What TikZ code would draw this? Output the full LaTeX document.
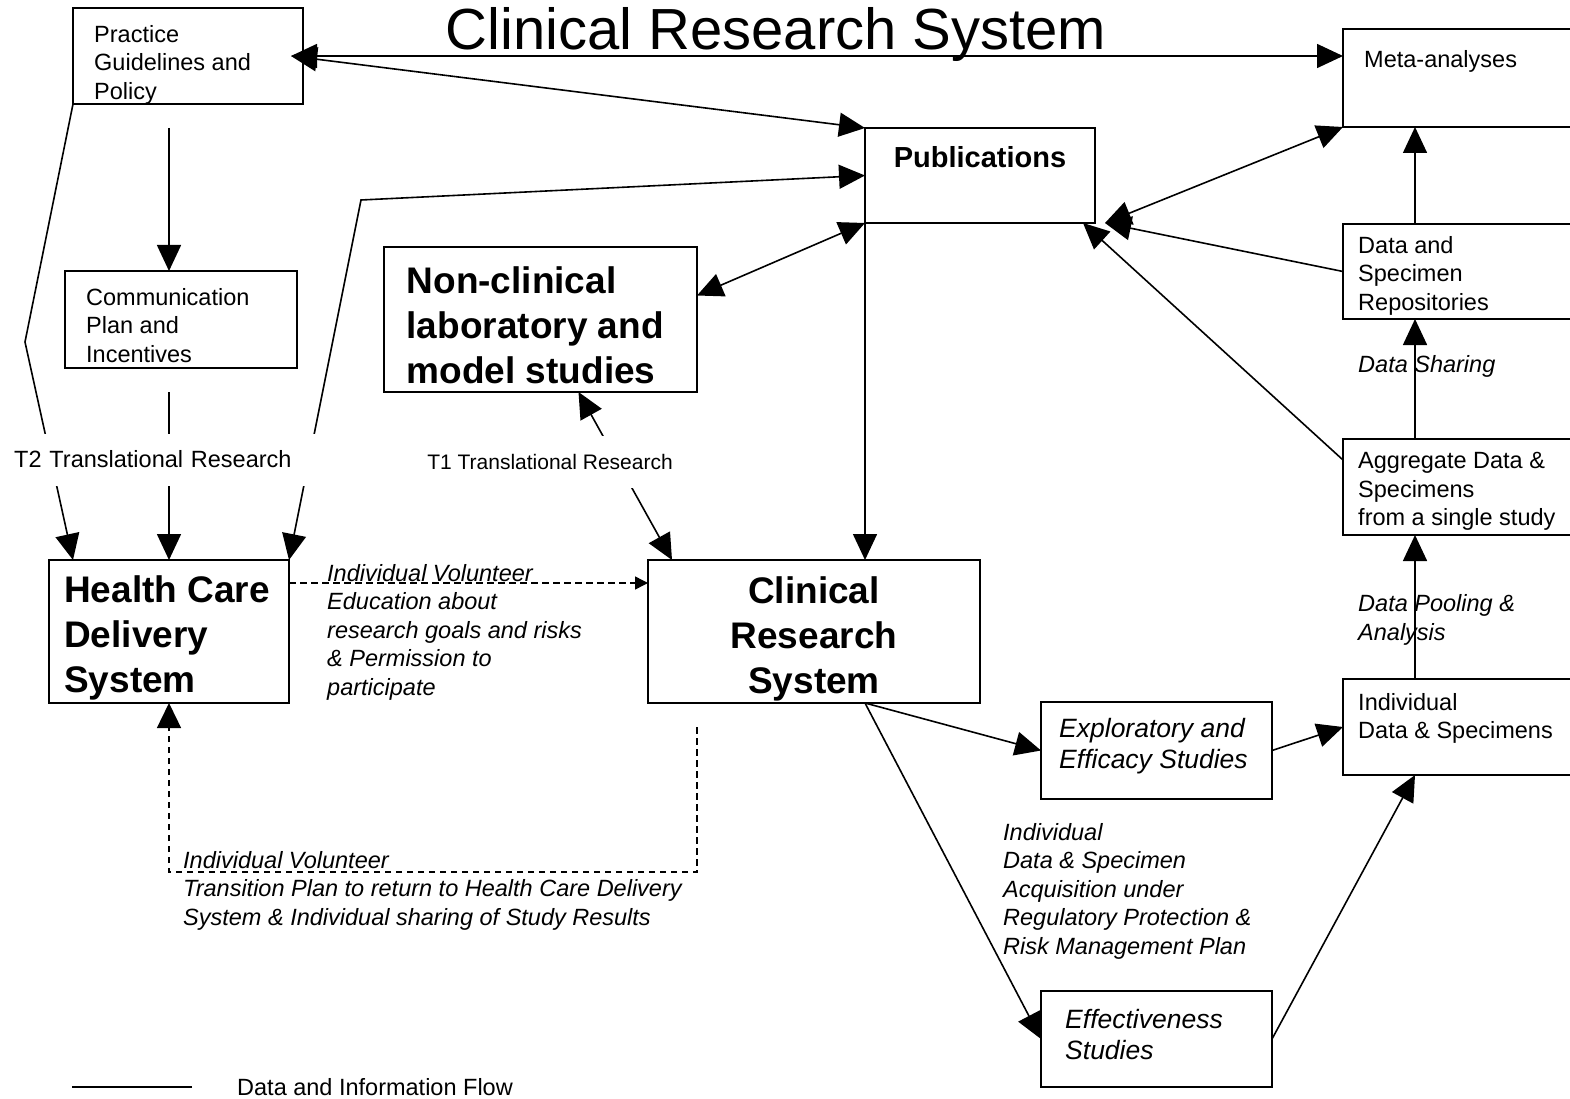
\documentclass[tikz,border=0pt]{standalone}
\usepackage{fontspec}
\setmainfont{Liberation Sans}
\usetikzlibrary{arrows.meta,positioning}
\newcommand{\fsz}[2]{\fontsize{#1}{#2}\selectfont}

\begin{document}
\begin{tikzpicture}[x=1pt,y=-1pt,
    box/.style={rectangle,draw,line width=2.2pt,inner sep=0pt,outer sep=0pt,anchor=north west},
    txt/.style={inner sep=0pt,anchor=north west,align=left,font=\fsz{23.5}{28.5}},
    itxt/.style={txt,font=\fsz{23.5}{28.5}\itshape},
    btxt/.style={txt,font=\fsz{37}{45}\bfseries},
    arr/.style={-{Triangle[length=26pt,width=24pt]},line width=1.6pt},
    darr/.style={{Triangle[length=26pt,width=24pt]}-{Triangle[length=26pt,width=24pt]},line width=1.6pt},
    dsh/.style={-{Triangle[length=13pt,width=13pt]},line width=1.4pt,dash pattern=on 6.5pt off 4.5pt},
    dshb/.style={dsh,-{Triangle[length=25pt,width=24pt]}},
]
\useasboundingbox (0,0) rectangle (1570,1099);

% Title
\node[font=\fsz{58}{70},inner sep=0pt,anchor=base] (title) at (776,50) {Clinical Research System};

% Boxes
\node[box,minimum width=230pt,minimum height=96pt] (guide) at (73,8) {};
\node[box,minimum width=232pt,minimum height=97pt] (comm) at (65,271) {};
\node[box,minimum width=313pt,minimum height=145pt] (nonclin) at (384,247) {};
\node[box,minimum width=230pt,minimum height=95pt] (pub) at (865,128) {};
\node[box,minimum width=240pt,minimum height=143pt] (hcds) at (49,560) {};
\node[box,minimum width=332pt,minimum height=143pt] (crs) at (648,560) {};
\node[box,minimum width=231pt,minimum height=97pt] (explor) at (1041,702) {};
\node[box,minimum width=231pt,minimum height=96pt] (effect) at (1041,991) {};

% Right column (runs off the page)
\node[box,minimum width=240pt,minimum height=98pt] (meta) at (1343,29) {};
\node[box,minimum width=240pt,minimum height=95pt] (repo) at (1343,224) {};
\node[box,minimum width=240pt,minimum height=96pt] (agg) at (1343,439) {};
\node[box,minimum width=240pt,minimum height=96pt] (indiv) at (1343,679) {};

% Box texts
\node[txt] (guidet) at (94,25) {Practice\\Guidelines and\\Policy};
\node[txt] (commt) at (86,288) {Communication\\Plan and\\Incentives};
\node[btxt] (nonclint) at (406.5,266) {Non-clinical\\laboratory and\\model studies};
\node[font=\fsz{29}{35}\bfseries,inner sep=0pt,anchor=base] (pubt) at (980,168) {Publications};
\node[btxt] (hcdst) at (64,575) {Health Care\\Delivery\\System};
\node[btxt,anchor=north,align=center] (crst) at (814,576) {Clinical\\Research\\System};
\node[itxt,font=\fsz{26.5}{31}\itshape] (explort) at (1059,718) {Exploratory and\\Efficacy Studies};
\node[itxt,font=\fsz{26.5}{31}\itshape] (effectt) at (1065,1009) {Effectiveness\\Studies};
\node[txt] (metat) at (1364,50) {Meta-analyses};
\node[txt] (repot) at (1358,236) {Data and\\Specimen\\Repositories};
\node[txt] (aggt) at (1358,452.5) {Aggregate Data \&\\Specimens\\from a single study};
\node[txt] (indivt) at (1358,693) {Individual\\Data \& Specimens};

% Flow labels
\node[itxt] (share) at (1358,355.5) {Data Sharing};
\node[itxt] (pool) at (1358,594.5) {Data Pooling \&\\Analysis};
\node[itxt] (vol1) at (327,564) {Individual Volunteer\\Education about\\research goals and risks\\\& Permission to\\participate};
\node[itxt] (vol2) at (183,851) {Individual Volunteer\\Transition Plan to return to Health Care Delivery\\System \& Individual sharing of Study Results};
\node[itxt] (acq) at (1003,823) {Individual\\Data \& Specimen\\Acquisition under\\Regulatory Protection \&\\Risk Management Plan};

% Bends
\coordinate (t2l) at (25,342);
\coordinate (t2r) at (361,200);
\coordinate (ret) at (169,872);

% Connections
\draw[darr] ([xshift=-12pt]guide.east) -- (guide.east -| meta.west);
\draw[darr] ([xshift=-12pt]guide.east) -- (pub.north west);
\draw[arr,shorten <=24pt] (guide.south -| hcds.north) -- (comm.north -| hcds.north);
\draw[arr,shorten <=24pt] (comm.south -| hcds.north) -- (hcds.north);
\draw[arr] (guide.south west) -- (t2l) -- ([xshift=24pt]hcds.north west);
\draw[darr] (hcds.north east) -- (t2r) -- (pub.west);
\draw[darr] ([yshift=24pt]nonclin.east) -- (pub.south west);
\draw[darr] ([xshift=38pt]nonclin.south) -- ([xshift=24pt]crs.north west);
\draw[arr] (pub.south west) -- (pub.south west |- crs.north);
\draw[darr] ([xshift=10pt]pub.south east) -- (meta.south west);
\draw[arr] (repo.west) -- ([xshift=10pt]pub.south east);
\draw[arr] ([yshift=-21pt]agg.north west) -- ([xshift=-12pt]pub.south east);
\draw[arr] ([xshift=72pt]repo.north west) -- ([xshift=72pt]meta.south west);
\draw[arr] ([xshift=72pt]agg.north west) -- ([xshift=72pt]repo.south west);
\draw[arr] ([xshift=72pt]indiv.north west) -- ([xshift=72pt]agg.south west);
\draw[arr] (crs.south -| pub.west) -- (explor.west);
\draw[arr] (crs.south -| pub.west) -- (effect.west);
\draw[arr] (explor.east) -- (indiv.west);
\draw[arr] (effect.east) -- ([xshift=72pt]indiv.south west);

% Volunteer loop
\draw[dsh] ([yshift=-23pt]hcds.north east) -- ([yshift=-23pt]hcds.north east -| crs.west);
\draw[dshb] ([xshift=49pt,yshift=-24pt]crs.south west) |- (ret) -- (hcds.south);

% Translational research labels
\node[txt,anchor=west,text width=300pt,inner xsep=6pt,minimum height=52pt,fill=white] (t2) at (8,459.5) {T2 Translational Research};
\node[txt,anchor=center,font=\fsz{21}{25},inner xsep=2pt,minimum height=52pt,fill=white] (t1) at (550,462) {T1 Translational Research};

% Legend
\node[txt] (legend) at (237,1078) {Data and Information Flow};
\draw[line width=2pt] ([xshift=-45pt]legend.west) -- ++(-120,0);
\end{tikzpicture}
\end{document}
